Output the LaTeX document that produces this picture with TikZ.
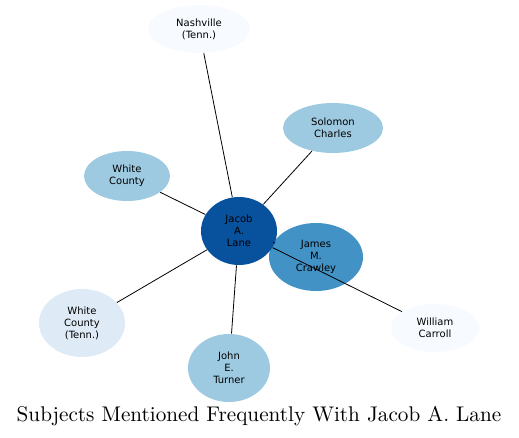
\documentclass[tikz,border=0pt]{standalone}
\usepackage{fontspec}
\newfontfamily\labelfont{DejaVu Sans}
\newfontfamily\titlefont{lmroman10-regular}[Extension=.otf]
\usetikzlibrary{shapes.geometric}
\definecolor{blueDark}{HTML}{08519C}
\definecolor{blueMid}{HTML}{4292C6}
\definecolor{blueLight}{HTML}{9ECAE1}
\definecolor{bluePale}{HTML}{DEEBF7}
\definecolor{blueWhite}{HTML}{F7FBFF}
\begin{document}
\begin{tikzpicture}[x=1pt, y=-1pt, line width=0.8pt,
    subj/.style={ellipse, inner sep=0pt, align=center,
      font=\labelfont\fontsize{10}{12}\selectfont}]
  \useasboundingbox (0,0) rectangle (519,438);
  % outer subjects
  \node[subj, fill=blueWhite, minimum width=102, minimum height=48] (nashville) at (199,29) {Nashville\\(Tenn.)};
  \node[subj, fill=blueLight, minimum width=100, minimum height=50] (solomon) at (333,128) {Solomon\\Charles};
  \node[subj, fill=blueLight, minimum width=86, minimum height=50] (whitecounty) at (127,176) {White\\County};
  \node[subj, fill=blueMid, minimum width=94, minimum height=68] (crawley) at (316,257) {James\\M.\\Crawley};
  \node[subj, fill=bluePale, minimum width=86, minimum height=68] (whitetenn) at (82,323) {White\\County\\(Tenn.)};
  \node[subj, fill=blueWhite, minimum width=88, minimum height=48] (carroll) at (435,328) {William\\Carroll};
  \node[subj, fill=blueLight, minimum width=82, minimum height=68] (turner) at (229,368) {John\\E.\\Turner};
  % centre
  \node[subj, fill=blueDark, minimum width=76, minimum height=68] (lane) at (239,231) {Jacob\\A.\\Lane};
  \foreach \n in {nashville, solomon, whitecounty, crawley, whitetenn, carroll, turner}
    \draw (lane) -- (\n);
  \node[font=\titlefont\fontsize{21.2}{25}\selectfont] (title) at (259,416) {Subjects Mentioned Frequently With Jacob A. Lane};
\end{tikzpicture}
\end{document}
